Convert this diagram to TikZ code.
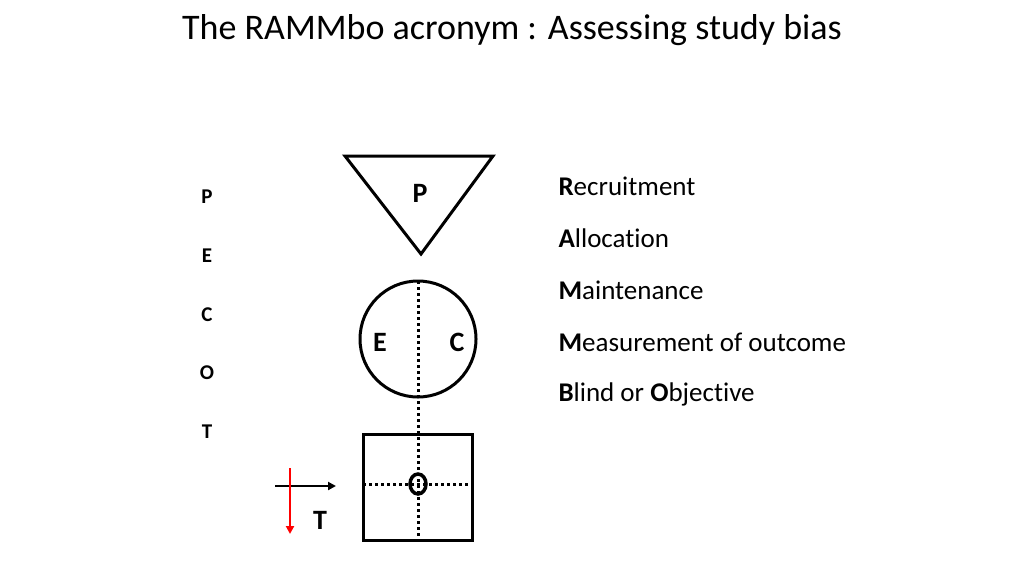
\documentclass[tikz,border=0pt]{standalone}
\usepackage{fontspec}
\setmainfont[Ligatures={NoCommon}]{Carlito}
\usetikzlibrary{arrows.meta}
\begin{document}
\begin{tikzpicture}[x=1pt,y=-1pt,
  letter/.style={font=\fontsize{21}{24}\selectfont\bfseries},
  big/.style={font=\fontsize{28}{32}\selectfont\bfseries},
  item/.style={anchor=west,font=\fontsize{27}{30}\selectfont},
  dots/.style={line width=3pt,dash pattern=on 3pt off 3pt}]
\useasboundingbox (0,0) rectangle (1024,576);
\node (title) at (512,30) {\fontsize{36}{40}\selectfont The RAMMbo acronym : Assessing study bias};

% triangle, circle, square
\draw[line width=3pt] (345,156) -- (493,156) -- (421,254) -- cycle;
\node[big] (p) at (420,193) {P};
\draw[line width=3pt] (418,339) circle (58);
\draw[line width=3pt] (363,434) rectangle (472,540);
\coordinate (top) at (418,281);
\coordinate (bot) at (418,540);
\coordinate (left) at (363,484);
\coordinate (right) at (472,484);
\draw[dots] (top) -- (bot);
\draw[dots] (left) -- (right);
\node[big] (e) at (380,342) {E};
\node[big] (c) at (457,342) {C};
\draw[line width=3.5pt] (418,484) ellipse (8 and 10);

% time arrows
\coordinate (ta) at (275,486);
\coordinate (tb) at (336,486);
\coordinate (ra) at (290,468);
\coordinate (rb) at (290,534);
\draw[line width=2.5pt,-{Triangle[length=8pt,width=8pt]}] (ta) -- (tb);
\draw[red,line width=2.5pt,-{Triangle[length=8pt,width=8pt]}] (ra) -- (rb);
\node[big] (t) at (320,520) {T};

% PECOT
\foreach \l/\y in {P/197,E/256,C/315,O/373,T/432}
  \node[letter] (l\l) at (207,\y) {\l};

% RAMMbo
\node[item] (r1) at (555,186) {\textbf{R}ecruitment};
\node[item] (r2) at (555,238) {\textbf{A}llocation};
\node[item] (r3) at (555,290) {\textbf{M}aintenance};
\node[item] (r4) at (555,342) {\textbf{M}easurement of outcome};
\node[item] (r5) at (555,394) {\textbf{B}lind or \textbf{O}bjective};
\end{tikzpicture}
\end{document}
